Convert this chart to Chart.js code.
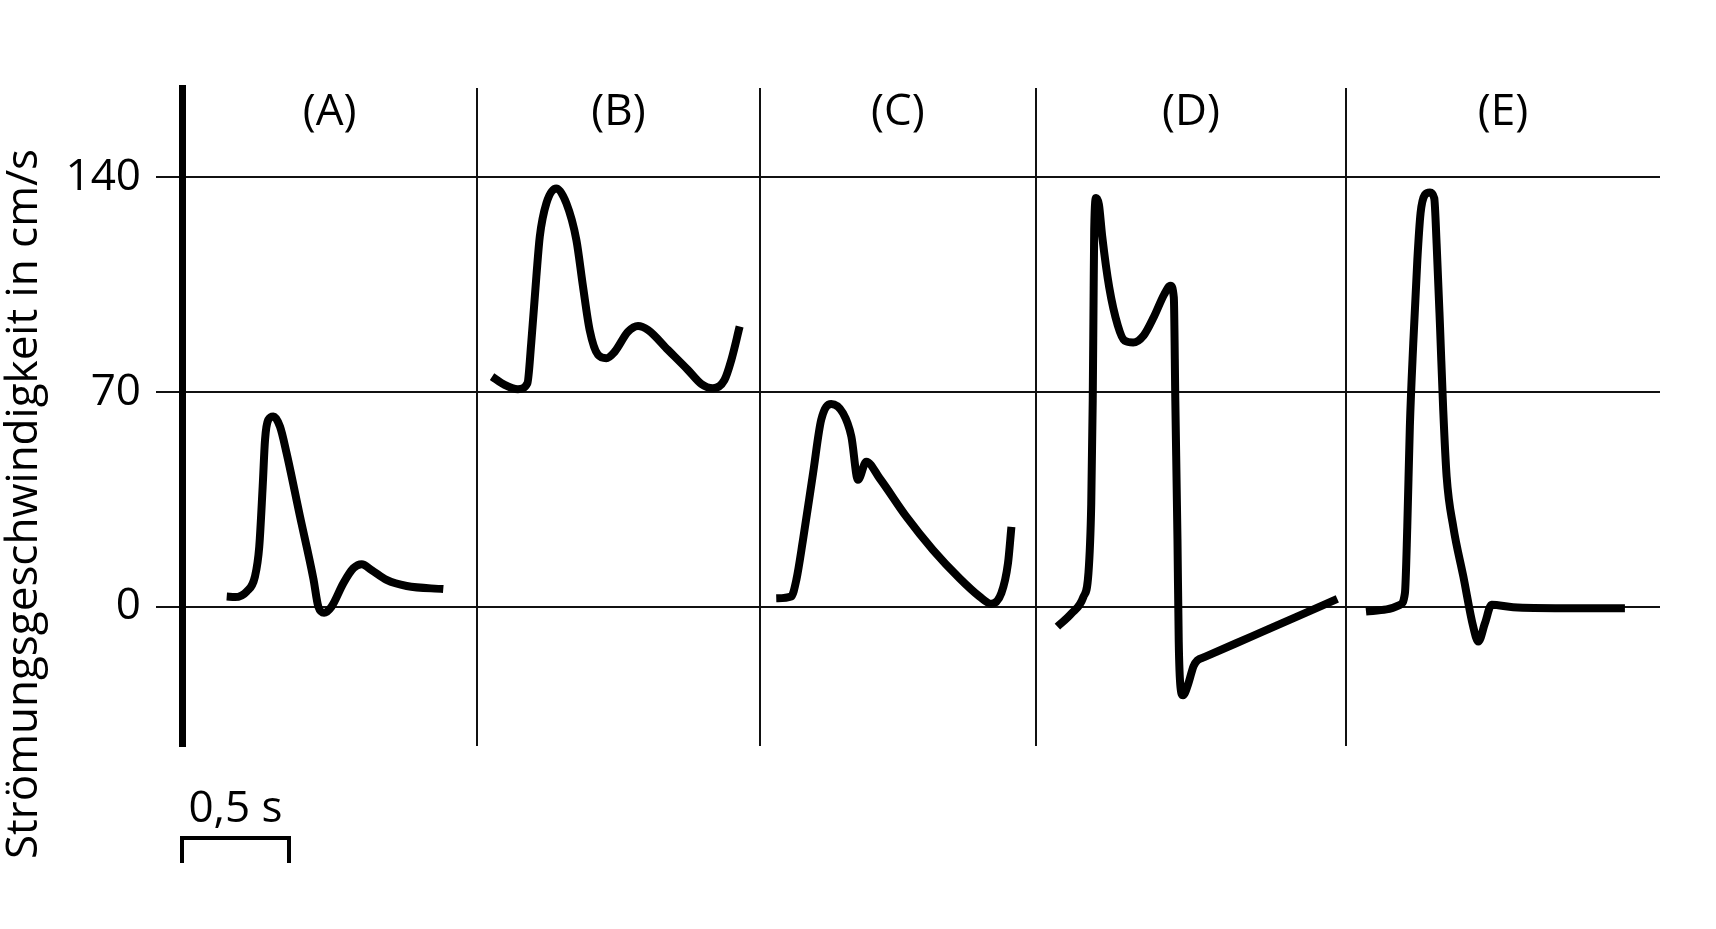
<!DOCTYPE html>
<html>
<head>
<meta charset="utf-8">
<title>Strömungsgeschwindigkeit</title>
<script src="https://cdn.jsdelivr.net/npm/chart.js@4.4.1/dist/chart.umd.min.js"></script>
<style>
  html, body { margin: 0; padding: 0; background: #fff; }
  canvas { display: block; }
</style>
</head>
<body>
<canvas id="flowChart" width="1716" height="929"></canvas>
<script>
// panel titles and the time (s) where one panel ends and the next begins
const panelLabels = ['(A)', '(B)', '(C)', '(D)', '(E)'];
const panelBounds = [1.38, 2.70, 3.99, 5.44];
const yTicks = [0, 70, 140];
const yTitle = 'Strömungsgeschwindigkeit in cm/s';
const scaleBarLabel = '0,5 s';
const scaleBarSeconds = 0.5;

// velocity traces: time in s, velocity in cm/s
const tA = [0.209, 0.248, 0.302, 0.341, 0.361, 0.377, 0.388, 0.403, 0.427, 0.458, 0.489, 0.551, 0.614, 0.637, 0.664, 0.699, 0.754, 0.801, 0.840, 0.886, 0.956, 1.050, 1.221];
const vA = [3.4, 3.2, 5.0, 9.9, 19.6, 39.2, 54.4, 60.9, 62.0, 58.7, 50.0, 29.6, 9.2, 0.1, -1.9, 0.1, 7.7, 12.6, 13.9, 12.0, 8.8, 6.8, 5.8];

const tB = [1.449, 1.508, 1.570, 1.614, 1.632, 1.656, 1.672, 1.703, 1.749, 1.796, 1.843, 1.874, 1.905, 1.944, 1.983, 2.022, 2.084, 2.131, 2.178, 2.271, 2.364, 2.427, 2.481, 2.535, 2.567, 2.606];
const vB = [75.0, 72.3, 70.9, 72.8, 85.9, 107.6, 120.6, 131.5, 136.3, 131.5, 119.5, 104.3, 90.2, 82.1, 81.0, 83.1, 89.6, 91.5, 90.2, 83.7, 77.2, 72.6, 71.2, 73.9, 80.4, 91.3];

const tC = [2.777, 2.847, 2.871, 2.902, 2.949, 2.987, 3.034, 3.089, 3.128, 3.159, 3.198, 3.260, 3.385, 3.509, 3.634, 3.727, 3.782, 3.829, 3.860, 3.876];
const vC = [2.8, 3.4, 8.8, 21.8, 43.5, 60.9, 66.1, 63.1, 55.5, 41.4, 47.3, 41.9, 29.4, 18.6, 9.3, 3.4, 1.0, 4.5, 14.2, 26.1];

const tD = [4.091, 4.156, 4.212, 4.236, 4.249, 4.256, 4.260, 4.263, 4.272, 4.285, 4.300, 4.333, 4.373, 4.405, 4.445, 4.494, 4.542, 4.590, 4.619, 4.635, 4.642, 4.652, 4.658, 4.666, 4.678, 4.703, 4.727, 4.745, 4.780, 5.000, 5.200, 5.399];
const vD = [-6.4, -2.2, 3.2, 11.0, 33.4, 67.1, 100.7, 123.1, 133.2, 131.0, 120.9, 104.1, 91.7, 86.7, 86.1, 88.4, 94.5, 101.8, 104.6, 100.7, 67.1, 22.2, -11.4, -26.0, -28.8, -24.9, -19.3, -17.4, -16.3, -9.6, -3.5, 2.6];

const tE = [5.533, 5.629, 5.692, 5.715, 5.726, 5.738, 5.754, 5.773, 5.788, 5.808, 5.832, 5.852, 5.863, 5.879, 5.894, 5.910, 5.941, 5.988, 6.034, 6.058, 6.089, 6.120, 6.221, 6.455, 6.743];
const vE = [-1.5, -0.8, 0.7, 4.5, 26.1, 58.7, 85.9, 113.0, 128.2, 134.2, 135.0, 133.1, 118.4, 91.3, 64.1, 42.4, 26.1, 9.9, -6.4, -11.3, -5.3, 0.7, -0.1, -0.4, -0.4];

const traces = [[tA, vA], [tB, vB], [tC, vC], [tD, vD], [tE, vE]];

Chart.defaults.font.family = "'Open Sans', sans-serif";
Chart.defaults.color = '#000';

// panel letters, rotated axis title and the 0,5 s scale bar
const annotations = {
  id: 'annotations',
  afterDraw(chart) {
    const { ctx, scales: { x } } = chart;
    const edges = [x.min].concat(panelBounds, [x.max]);
    ctx.save();
    ctx.fillStyle = '#000';
    ctx.strokeStyle = '#000';
    ctx.font = "44px 'Open Sans'";
    ctx.textAlign = 'center';
    ctx.textBaseline = 'alphabetic';

    panelLabels.forEach((label, i) => {
      const mid = (x.getPixelForValue(edges[i]) + x.getPixelForValue(edges[i + 1])) / 2;
      ctx.fillText(label, mid, 125);
    });

    const x0 = x.getPixelForValue(0);
    const x1 = x.getPixelForValue(scaleBarSeconds);
    ctx.fillText(scaleBarLabel, (x0 + x1) / 2, 822);
    ctx.lineWidth = 4;
    ctx.beginPath();
    ctx.moveTo(x0, 863);
    ctx.lineTo(x0, 838);
    ctx.lineTo(x1, 838);
    ctx.lineTo(x1, 863);
    ctx.stroke();

    ctx.translate(37, 504);
    ctx.rotate(-Math.PI / 2);
    ctx.fillText(yTitle, 0, 0);
    ctx.restore();
  }
};

new Chart(document.getElementById('flowChart'), {
  type: 'line',
  data: {
    datasets: traces.map(([t, v], i) => ({
      label: panelLabels[i],
      data: t.map((tt, k) => ({ x: tt, y: v[k] })),
      borderColor: '#000',
      borderWidth: 8,
      pointRadius: 0,
      fill: false,
      cubicInterpolationMode: 'monotone',
      borderCapStyle: 'butt',
      borderJoinStyle: 'round'
    }))
  },
  options: {
    responsive: false,
    animation: false,
    devicePixelRatio: 1,
    layout: { padding: { top: 88, right: 56, bottom: 0, left: 0 } },
    plugins: {
      legend: { display: false },
      tooltip: { enabled: false }
    },
    scales: {
      x: {
        type: 'linear',
        min: 0,
        max: 6.907,
        afterBuildTicks: s => { s.ticks = panelBounds.map(v => ({ value: v })); },
        afterFit: s => { s.height = 183; },
        ticks: { display: false },
        grid: { color: '#111', lineWidth: 2, drawTicks: false },
        border: { display: false }
      },
      y: {
        min: -45.3,
        max: 169,
        afterBuildTicks: s => { s.ticks = yTicks.map(v => ({ value: v })); },
        afterFit: s => { s.width = 182; },
        ticks: { color: '#000', font: { size: 44 }, padding: 15 },
        grid: { color: '#111', lineWidth: 2, tickLength: 26 },
        border: { display: true, color: '#000', width: 7 }
      }
    }
  },
  plugins: [annotations]
});
</script>
</body>
</html>
